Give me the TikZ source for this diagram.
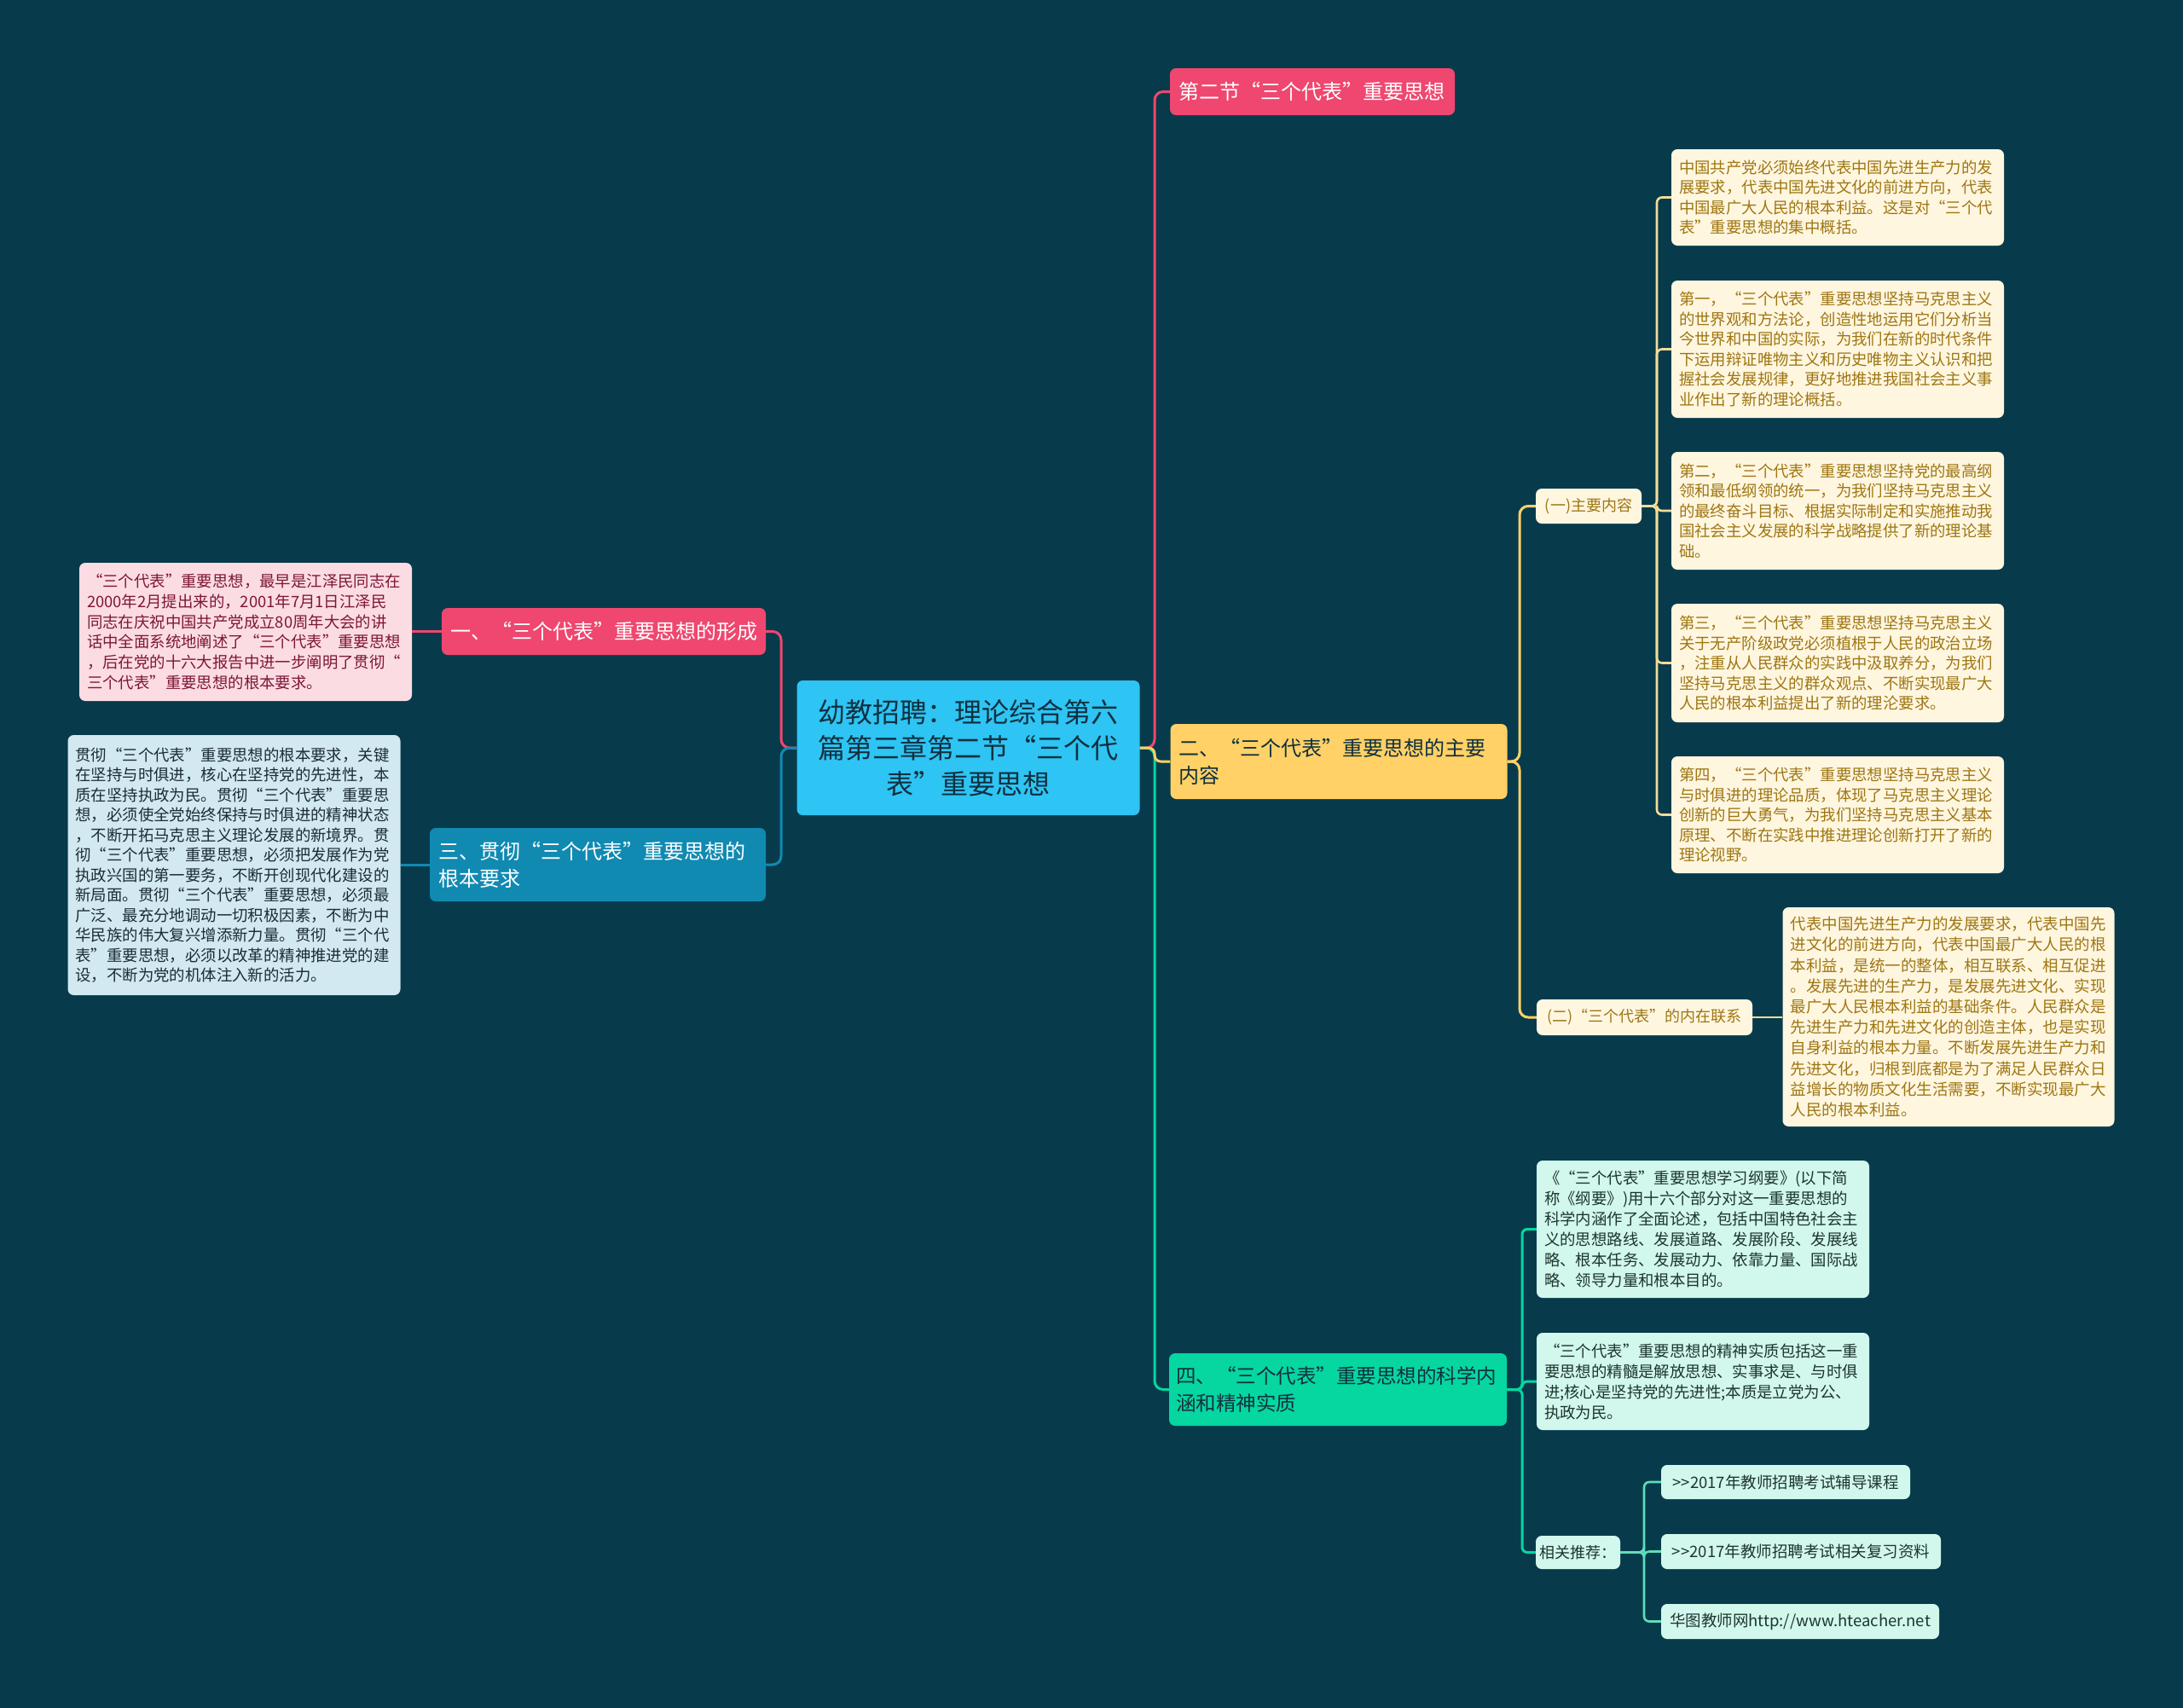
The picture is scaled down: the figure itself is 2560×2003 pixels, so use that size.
\documentclass[tikz,border=0pt]{standalone}
\usepackage{fontspec}
\setmainfont{Noto Sans CJK SC}
\definecolor{bg}{HTML}{073B4C}
\definecolor{cpink}{HTML}{EF476F}
\definecolor{cyell}{HTML}{FFD166}
\definecolor{cgreen}{HTML}{06D6A0}
\definecolor{cblue}{HTML}{118AB2}
\definecolor{croot}{HTML}{2EC4F3}
\definecolor{lpink}{HTML}{FCDCE3}
\definecolor{lblue}{HTML}{D2E9F1}
\definecolor{lyell}{HTML}{FFF6E0}
\definecolor{lgreen}{HTML}{D2F7EC}
\definecolor{tpink}{HTML}{7D1636}
\definecolor{tblue}{HTML}{1C2C34}
\definecolor{tyell}{HTML}{9E7612}
\definecolor{tgreen}{HTML}{1C3530}
\definecolor{tdark}{HTML}{10303F}
\definecolor{ylight}{HTML}{F3DC98}
\definecolor{glight}{HTML}{5FDDB9}
\newcommand\fsz[2]{\fontsize{#1}{#2}\selectfont}
\begin{document}
\begin{tikzpicture}[x=1pt,y=-1pt,
  box/.style={rounded corners=7pt, inner xsep=9pt, inner ysep=0pt, anchor=center, align=left},
  leafbox/.style={box, text width=372pt, font=\fsz{18.4}{23.5}},
  smallbox/.style={box, align=center, inner xsep=4pt, font=\fsz{18}{22}},
  conn/.style={line width=3pt, rounded corners=10pt},
  cpk/.style={conn, draw=cpink},
  cbl/.style={conn, draw=cblue},
  cyl/.style={conn, draw=cyell},
  cyl2/.style={conn, draw=ylight, line width=2.6pt},
  cgr/.style={conn, draw=cgreen},
  cgr2/.style={conn, draw=glight, line width=2.6pt}]
\fill[bg] (0,0) rectangle (2560,2003);
\useasboundingbox (0,0) rectangle (2560,2003);

\coordinate (TL) at (916,0);
\coordinate (TR) at (1354,0);
\coordinate (T2) at (1782,0);
\coordinate (T21) at (1943,0);
\coordinate (T4) at (1785,0);
\coordinate (TRc) at (1928,0);

% root
\node[box, align=center, fill=croot, text=tdark, text width=384pt, minimum height=158pt, font=\fsz{32}{42}] (root) at (1135.5,877)
 {幼教招聘：理论综合第六\\篇第三章第二节“三个代\\表”重要思想};

% main branches
\node[box, fill=cpink, text=white, inner xsep=10pt, text width=314pt, minimum height=55pt, font=\fsz{24}{32}] (sec) at (1539,107.5)
 {第二节“三个代表”重要思想};
\node[box, fill=cpink, text=white, inner xsep=10pt, text width=360pt, minimum height=55pt, font=\fsz{24}{32}] (n1) at (708,740.5)
 {一、“三个代表”重要思想的形成};
\node[box, fill=cblue, text=white, inner xsep=10pt, text width=374pt, minimum height=86pt, font=\fsz{24}{32}] (n3) at (701,1014)
 {三、贯彻“三个代表”重要思想的\\根本要求};
\node[box, fill=cyell, text=tdark, inner xsep=10pt, text width=375pt, minimum height=88pt, font=\fsz{24}{32}] (n2) at (1570,893)
 {二、“三个代表”重要思想的主要\\内容};
\node[box, fill=cgreen, text=tdark, inner xsep=8pt, text width=380pt, minimum height=85pt, font=\fsz{23.5}{32}] (n4) at (1569,1629.5)
 {四、“三个代表”重要思想的科学内\\涵和精神实质};

% left leaves
\node[leafbox, fill=lpink, text=tpink, minimum height=162pt, font=\fsz{18.4}{23.7}] (lp) at (288,741)
 {“三个代表”重要思想，最早是江泽民同志在\\2000年2月提出来的，2001年7月1日江泽民\\同志在庆祝中国共产党成立80周年大会的讲\\话中全面系统地阐述了“三个代表”重要思想\\，后在党的十六大报告中进一步阐明了贯彻“\\三个代表”重要思想的根本要求。};
\node[leafbox, fill=lblue, text=tblue, minimum height=305pt] (lb) at (274.5,1014.5)
 {贯彻“三个代表”重要思想的根本要求，关键\\在坚持与时俱进，核心在坚持党的先进性，本\\质在坚持执政为民。贯彻“三个代表”重要思\\想，必须使全党始终保持与时俱进的精神状态\\，不断开拓马克思主义理论发展的新境界。贯\\彻“三个代表”重要思想，必须把发展作为党\\执政兴国的第一要务，不断开创现代化建设的\\新局面。贯彻“三个代表”重要思想，必须最\\广泛、最充分地调动一切积极因素，不断为中\\华民族的伟大复兴增添新力量。贯彻“三个代\\表”重要思想，必须以改革的精神推进党的建\\设，不断为党的机体注入新的活力。};

% sub-branches of 二
\node[smallbox, fill=lyell, text=tyell, minimum width=124pt, minimum height=41pt] (s1) at (1863,593.5) {(一)主要内容};
\node[smallbox, fill=lyell, text=tyell, minimum width=253pt, minimum height=42pt] (s2) at (1928.5,1193) {(二)“三个代表”的内在联系};

\node[leafbox, fill=lyell, text=tyell, minimum height=113pt] (y1) at (2155,231.5)
 {中国共产党必须始终代表中国先进生产力的发\\展要求，代表中国先进文化的前进方向，代表\\中国最广大人民的根本利益。这是对“三个代\\表”重要思想的集中概括。};
\node[leafbox, fill=lyell, text=tyell, minimum height=161pt] (y2) at (2155,409.5)
 {第一，“三个代表”重要思想坚持马克思主义\\的世界观和方法论，创造性地运用它们分析当\\今世界和中国的实际，为我们在新的时代条件\\下运用辩证唯物主义和历史唯物主义认识和把\\握社会发展规律，更好地推进我国社会主义事\\业作出了新的理论概括。};
\node[leafbox, fill=lyell, text=tyell, minimum height=138pt] (y3) at (2155,599)
 {第二，“三个代表”重要思想坚持党的最高纲\\领和最低纲领的统一，为我们坚持马克思主义\\的最终奋斗目标、根据实际制定和实施推动我\\国社会主义发展的科学战略提供了新的理论基\\础。};
\node[leafbox, fill=lyell, text=tyell, minimum height=139pt] (y4) at (2155,777.5)
 {第三，“三个代表”重要思想坚持马克思主义\\关于无产阶级政党必须植根于人民的政治立场\\，注重从人民群众的实践中汲取养分，为我们\\坚持马克思主义的群众观点、不断实现最广大\\人民的根本利益提出了新的理沦要求。};
\node[leafbox, fill=lyell, text=tyell, minimum height=137pt] (y5) at (2155,955.5)
 {第四，“三个代表”重要思想坚持马克思主义\\与时俱进的理论品质，体现了马克思主义理论\\创新的巨大勇气，为我们坚持马克思主义基本\\原理、不断在实践中推进理论创新打开了新的\\理论视野。};
\node[leafbox, fill=lyell, text=tyell, text width=371pt, minimum height=257pt, font=\fsz{18.5}{24.2}] (y6) at (2285,1192.5)
 {代表中国先进生产力的发展要求，代表中国先\\进文化的前进方向，代表中国最广大人民的根\\本利益，是统一的整体，相互联系、相互促进\\。发展先进的生产力，是发展先进文化、实现\\最广大人民根本利益的基础条件。人民群众是\\先进生产力和先进文化的创造主体，也是实现\\自身利益的根本力量。不断发展先进生产力和\\先进文化，归根到底都是为了满足人民群众日\\益增长的物质文化生活需要，不断实现最广大\\人民的根本利益。};

% children of 四
\node[leafbox, fill=lgreen, text=tgreen, minimum height=161pt, font=\fsz{18.4}{24}] (g1) at (1997,1441.5)
 {《“三个代表”重要思想学习纲要》(以下简\\称《纲要》)用十六个部分对这一重要思想的\\科学内涵作了全面论述，包括中国特色社会主\\义的思想路线、发展道路、发展阶段、发展线\\略、根本任务、发展动力、依靠力量、国际战\\略、领导力量和根本目的。};
\node[leafbox, fill=lgreen, text=tgreen, minimum height=114pt, font=\fsz{18.4}{24}] (g2) at (1997,1620)
 {“三个代表”重要思想的精神实质包括这一重\\要思想的精髓是解放思想、实事求是、与时俱\\进;核心是坚持党的先进性;本质是立党为公、\\执政为民。};
\node[smallbox, fill=lgreen, text=tgreen, minimum width=99pt, minimum height=39pt] (rec) at (1850.5,1820.5) {相关推荐：};
\node[smallbox, fill=lgreen, text=tgreen, minimum width=292pt, minimum height=40pt, font=\fsz{18.5}{22}] (r1) at (2094,1738) {>{}>2017年教师招聘考试辅导课程};
\node[smallbox, fill=lgreen, text=tgreen, minimum width=328pt, minimum height=41pt, font=\fsz{18.5}{22}] (r2) at (2112,1819.5) {>{}>2017年教师招聘考试相关复习资料};
\node[smallbox, fill=lgreen, text=tgreen, minimum width=326pt, minimum height=41pt, font=\fsz{18.5}{22}] (r3) at (2111,1901.5) {华图教师网http://www.hteacher.net};

% connectors
\draw[cpk] (root.west) -- (TL |- root.west) |- (n1.east);
\draw[cbl] (root.west) -- (TL |- root.west) |- (n3.east);
\draw[cpk] (n1.west) -- (lp.east |- n1.west);
\draw[cbl] (n3.west) -- (lb.east |- n3.west);
\draw[cpk] (root.east) -- (TR |- root.east) |- (sec.west);
\draw[cgr] (root.east) -- (TR |- root.east) |- (n4.west);
\draw[cyl, rounded corners=7pt] (root.east) -- (TR |- root.east) |- (n2.west);
\draw[cyl] (n2.east) -- (T2 |- n2.east) |- (s1.west);
\draw[cyl] (n2.east) -- (T2 |- n2.east) |- (s2.west);
\foreach \t in {y1,y2,y3,y4,y5}
  \draw[cyl2, rounded corners=6pt] (s1.east) -- (T21 |- s1.east) |- (\t.west);
\draw[cyl2] (s2.east) -- (y6.west |- s2.east);
\foreach \t in {g1,g2,rec}
  \draw[cgr, rounded corners=6pt] (n4.east) -- (T4 |- n4.east) |- (\t.west);
\foreach \t in {r1,r2,r3}
  \draw[cgr2, rounded corners=6pt] (rec.east) -- (TRc |- rec.east) |- (\t.west);
\end{tikzpicture}
\end{document}
